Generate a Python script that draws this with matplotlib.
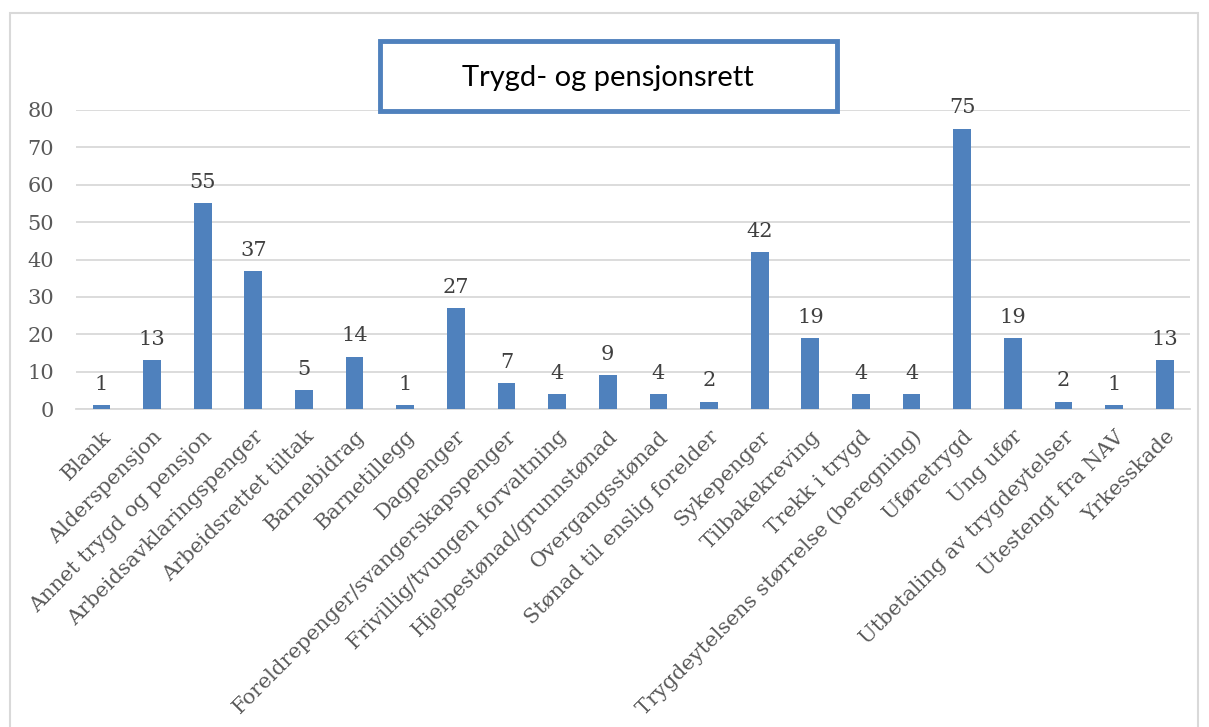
import matplotlib.pyplot as plt
from matplotlib.patches import Rectangle

# Kategorier og verdier
kategorier = ['Blank', 'Alderspensjon', 'Annet trygd og pensjon', 'Arbeidsavklaringspenger',
              'Arbeidsrettet tiltak', 'Barnebidrag', 'Barnetillegg', 'Dagpenger',
              'Foreldrepenger/svangerskapspenger', 'Frivillig/tvungen forvaltning',
              'Hjelpestønad/grunnstønad', 'Overgangsstønad', 'Stønad til enslig forelder',
              'Sykepenger', 'Tilbakekreving', 'Trekk i trygd',
              'Trygdeytelsens størrelse (beregning)', 'Uføretrygd', 'Ung ufør',
              'Utbetaling av trygdeytelser', 'Utestengt fra NAV', 'Yrkesskade']
verdier = [1, 13, 55, 37, 5, 14, 1, 27, 7, 4, 9, 4, 2, 42, 19, 4, 4, 75, 19, 2, 1, 13]
yticks = [0, 10, 20, 30, 40, 50, 60, 70, 80]

blaa = '#4F81BD'
graa = '#595959'
serif = 'DejaVu Serif'

fig = plt.figure(figsize=(12.09, 7.27), dpi=100)
ax = fig.add_axes([0.0629, 0.4374, 0.9215, 0.4113])

x = range(len(kategorier))
bars = ax.bar(x, verdier, width=0.35, color=blaa, zorder=3)

for i, v in enumerate(verdier):
    ax.text(i, v + 3.0, str(v), ha='center', va='bottom', fontsize=15,
            family=serif, color='#404040')

ax.set_xlim(-0.5, len(kategorier) - 0.5)
ax.set_ylim(0, 80)
ax.set_yticks(yticks)
ax.set_yticklabels([str(t) for t in yticks], family=serif, fontsize=15, color=graa)
ax.set_xticks(list(x))
ax.set_xticklabels(kategorier, rotation=45, ha='right', va='top', rotation_mode='anchor',
                   family=serif, fontsize=15, color=graa)
ax.tick_params(axis='both', length=0)
ax.tick_params(axis='y', pad=16)
ax.tick_params(axis='x', pad=13)
ax.grid(axis='y', color='#D9D9D9', linewidth=1.3, zorder=0)
for s in ['top', 'right', 'left']:
    ax.spines[s].set_visible(False)
ax.spines['bottom'].set_color('#D9D9D9')
ax.spines['bottom'].set_linewidth(1.3)

# Ytre ramme
fig.patches.append(Rectangle((10 / 1209, -0.05), 1188 / 1209, 1 - 13 / 727 + 0.05,
                             transform=fig.transFigure, fill=False,
                             edgecolor='#D9D9D9', linewidth=1.5))

# Tittelboks
fig.patches.append(Rectangle((380 / 1209, 1 - 111 / 727), 457 / 1209, 70 / 727,
                             transform=fig.transFigure, facecolor='white',
                             edgecolor=blaa, linewidth=3.5, zorder=5))
fig.text(608 / 1209, 1 - 78 / 727, 'Trygd- og pensjonsrett', ha='center', va='center',
         family='Lato', fontsize=21, color='black', zorder=6)

plt.savefig('out.png', dpi=100)
